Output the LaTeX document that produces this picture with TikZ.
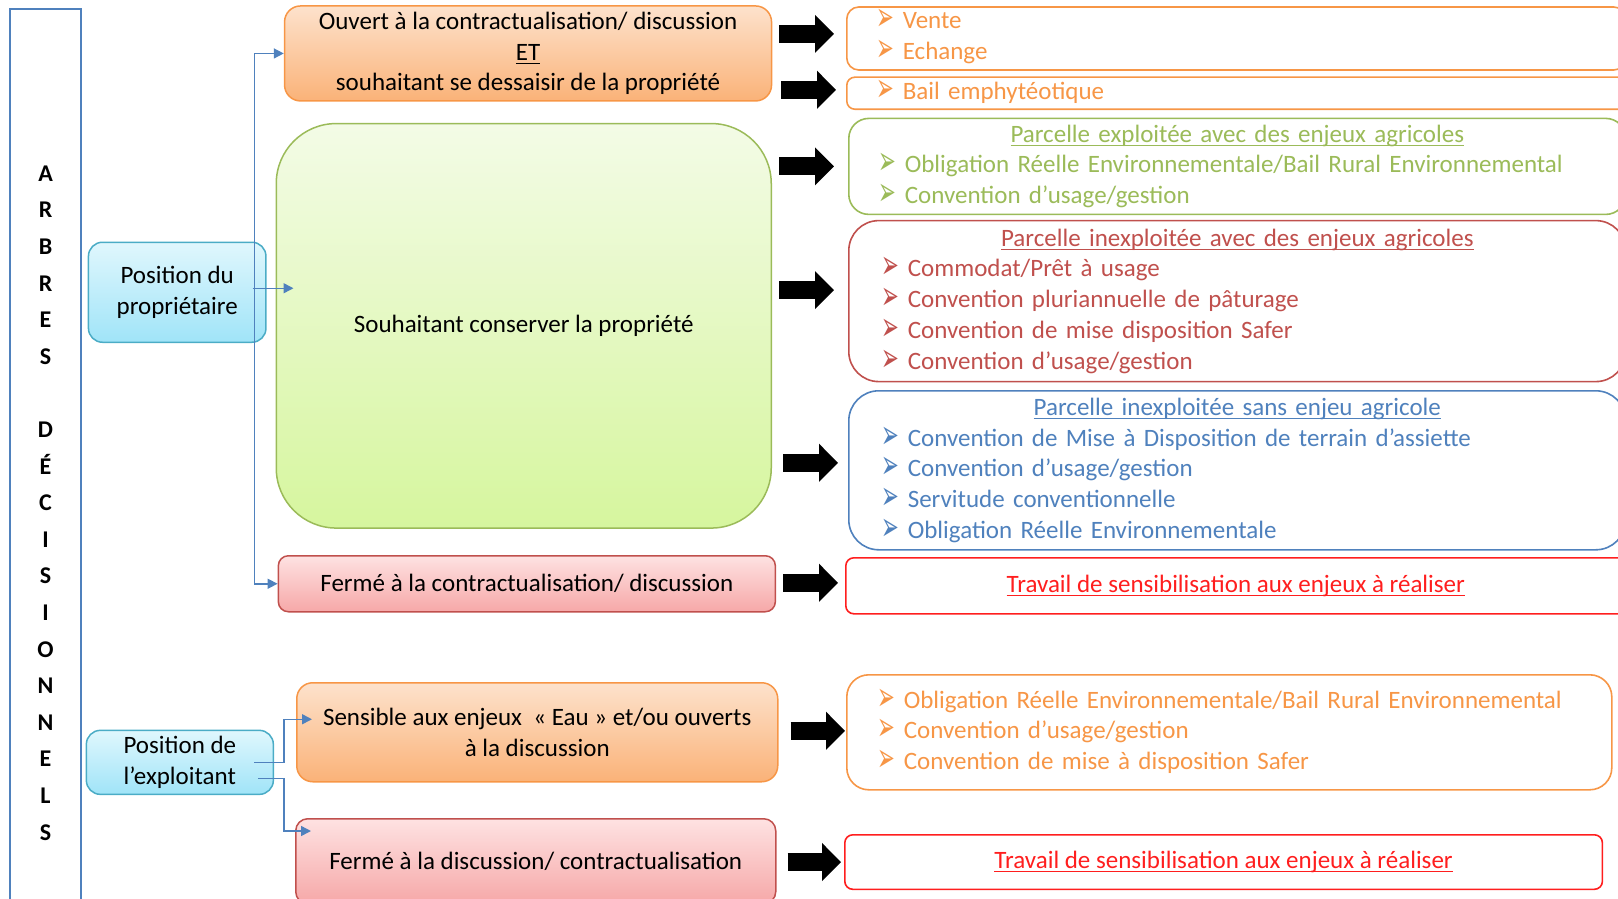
\documentclass[tikz,border=0pt]{standalone}
\usepackage{fontspec}
\usepackage{graphicx}
\setmainfont{Carlito}
\newfontfamily\bulletfont{DejaVu Sans}
\usetikzlibrary{arrows.meta}

\definecolor{ofcblue}{RGB}{79,129,189}
\definecolor{ofcaqua}{RGB}{75,172,198}
\definecolor{ofcorange}{RGB}{247,150,70}
\definecolor{ofcgreen}{RGB}{155,187,89}
\definecolor{ofcred}{RGB}{192,80,77}
\definecolor{vivid}{RGB}{255,30,30}
\definecolor{aquatop}{RGB}{224,247,253}
\definecolor{aquabot}{RGB}{160,228,248}
\definecolor{orangetop}{RGB}{253,226,204}
\definecolor{orangebot}{RGB}{250,178,120}
\definecolor{greentop}{RGB}{243,251,230}
\definecolor{greenbot}{RGB}{214,246,158}
\definecolor{redtop}{RGB}{254,226,226}
\definecolor{redbot}{RGB}{246,168,168}

\newcommand{\puce}{\hspace*{-3pt}\makebox[26pt][l]{\smash{\raisebox{-2pt}{\scalebox{0.85}[1.6]{\bulletfont\fontsize{25}{25}\selectfont ➢}}}}}
\newlength{\soulen}
\newcommand{\souligne}[1]{\settowidth{\soulen}{#1}\rlap{\rule[-3.5pt]{\soulen}{1pt}}#1}

\begin{document}
\begin{tikzpicture}
  [x=1pt,y=-1pt,
   every node/.style={font=\fontsize{25}{30.8}\selectfont,inner sep=0pt,anchor=north west},
   lbox/.style 2 args={draw=#1,top color=#2top,bottom color=#2bot,line width=1.5pt,align=center},
   rbox/.style={draw=#1,text=#1,fill=white,line width=1.6pt,align=left},
   conn/.style={draw=ofcblue,line width=1.5pt,-{Triangle[length=10pt,width=10pt]}},
   bigarrow/.style={line width=18pt,-{Triangle[length=19pt,width=37pt]}}]
  \useasboundingbox (0,0) rectangle (1618,899);
  \clip (0,0) rectangle (1618,899);

  % colonne du titre
  \node[draw=ofcblue,line width=1.5pt,minimum width=71pt,minimum height=988pt,align=center,
        font=\fontsize{24}{36.6}\selectfont\bfseries] (arbres) at (9.3,8.3)
        {A\\R\\B\\R\\E\\S\\[36.6pt]D\\É\\C\\I\\S\\I\\O\\N\\N\\E\\L\\S};

  % acteurs
  \node[lbox={ofcaqua}{aqua},rounded corners=14pt,minimum width=177.5pt,minimum height=100pt] (proprio) at (87.7,241.5) {Position du\\propriétaire};
  \node[lbox={ofcaqua}{aqua},rounded corners=14pt,minimum width=187pt,minimum height=64pt] (exploitant) at (85.6,729.6) {Position de\\l’exploitant};

  % attitudes
  \node[lbox={ofcorange}{orange},rounded corners=16pt,minimum width=487pt,minimum height=95pt] (ouvert) at (283.8,5.2) {Ouvert à la contractualisation/ discussion\\\souligne{ET}\\souhaitant se dessaisir de la propriété};
  \node[lbox={ofcgreen}{green},rounded corners=60pt,minimum width=495pt,minimum height=404.5pt] (conserver) at (275.5,122.8) {Souhaitant conserver la propriété};
  \node[lbox={ofcred}{red},rounded corners=10pt,minimum width=497pt,minimum height=56pt] (ferme) at (277.6,555) {Fermé à la contractualisation/ discussion};
  \node[lbox={ofcorange}{orange},rounded corners=16pt,minimum width=481pt,minimum height=99pt] (sensible) at (296,682) {Sensible aux enjeux~~« Eau » et/ou ouverts\\à la discussion};
  \node[lbox={ofcred}{red},rounded corners=12pt,minimum width=480pt,minimum height=85pt] (fermeexp) at (295,818) {Fermé à la discussion/ contractualisation};

  % outils
  \node[rbox=ofcorange,rounded corners=12pt,minimum width=779pt,minimum height=63pt,text width=713pt] (vente) at (846,6.2) {\puce Vente\\\puce Echange};
  \node[rbox=ofcorange,rounded corners=8pt,minimum width=779pt,minimum height=32pt,text width=713pt] (bail) at (846,76.4) {\puce Bail emphytéotique};
  \node[rbox=ofcgreen,rounded corners=20pt,minimum width=777pt,minimum height=96pt,text width=711pt] (exploitee) at (848,117.6)
    {\makebox[\linewidth]{\souligne{Parcelle exploitée avec des enjeux agricoles}}\\
     \puce Obligation Réelle Environnementale/Bail Rural Environnemental\\
     \puce Convention d’usage/gestion};
  \node[rbox=ofcred,rounded corners=30pt,minimum width=777pt,minimum height=161pt,text width=705pt] (inexploitee) at (848,219.8)
    {\makebox[\linewidth]{\souligne{Parcelle inexploitée avec des enjeux agricoles}}\\
     \puce Commodat/Prêt à usage\\
     \puce Convention pluriannuelle de pâturage\\
     \puce Convention de mise disposition Safer\\
     \puce Convention d’usage/gestion};
  \node[rbox=ofcblue,rounded corners=30pt,minimum width=777pt,minimum height=159pt,text width=705pt] (sansenjeu) at (848,390)
    {\makebox[\linewidth]{\souligne{Parcelle inexploitée sans enjeu agricole}}\\
     \puce Convention de Mise à Disposition de terrain d’assiette\\
     \puce Convention d’usage/gestion\\
     \puce Servitude conventionnelle\\
     \puce Obligation Réelle Environnementale};
  \node[rbox=vivid,rounded corners=8pt,minimum width=780pt,minimum height=56pt,align=center] (sensib) at (845,557) {\souligne{Travail de sensibilisation aux enjeux à réaliser}};
  \node[rbox=ofcorange,rounded corners=22pt,minimum width=765pt,minimum height=115pt,text width=697pt] (outils) at (846,674)
    {\puce Obligation Réelle Environnementale/Bail Rural Environnemental\\
     \puce Convention d’usage/gestion\\
     \puce Convention de mise à disposition Safer};
  \node[rbox=vivid,rounded corners=8pt,minimum width=757.6pt,minimum height=54.5pt,align=center] (sensibexp) at (844,834) {\souligne{Travail de sensibilisation aux enjeux à réaliser}};

  % liaisons
  \draw[conn] ([xshift=-12pt]proprio.east) |- (ouvert.west);
  \draw[conn] ([xshift=-14pt,yshift=4pt]proprio.east) -- ([xshift=18pt,yshift=4pt]proprio.east -| conserver.west);
  \draw[conn] ([xshift=-12pt]proprio.east) |- (ferme.west);
  \draw[conn] ([xshift=-20pt]exploitant.east) -- ++(30,0) |- ([xshift=16pt,yshift=13pt]sensible.west);
  \draw[conn] ([xshift=-16pt,yshift=-16pt]exploitant.east) -- ++(26,0) |- ([xshift=16pt,yshift=-13pt]fermeexp.north west);

  \foreach \from/\to/\sa/\sb/\dy in {ouvert/vente/7/12/4.6,ouvert/bail/9/10/3.4,conserver/exploitee/7/14/0,
      conserver/inexploitee/7/14/11,conserver/sansenjeu/11/10/7.5,ferme/sensib/7/7/3,
      sensible/outils/12/1/1.5,fermeexp/sensibexp/11/3/0}
    \draw[bigarrow] ([xshift=\sa pt,yshift=\dy pt]\from.east |- \to.west) -- ([xshift=-\sb pt,yshift=\dy pt]\to.west);
\end{tikzpicture}
\end{document}
